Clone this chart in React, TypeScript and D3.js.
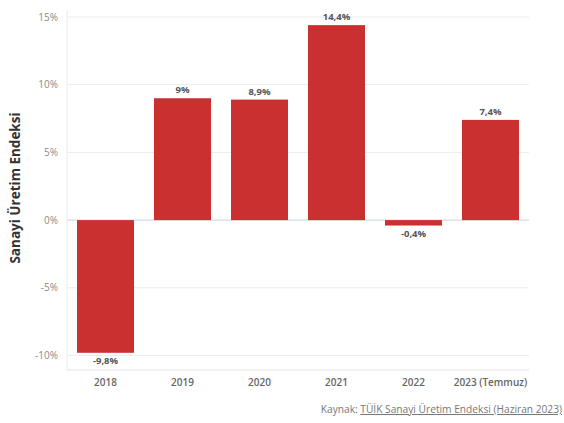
import React from "react";
import * as d3 from "d3";

const categories = ["2018", "2019", "2020", "2021", "2022", "2023 (Temmuz)"];
const values = [-9.8, 9.0, 8.9, 14.4, -0.4, 7.4];
const valueLabels = ["-9,8%", "9%", "8,9%", "14,4%", "-0,4%", "7,4%"];
const yTicks = [-10, -5, 0, 5, 10, 15];
const yTickLabels = ["-10%", "-5%", "0%", "5%", "10%", "15%"];

const W = 564;
const H = 423;
const left = 67;
const right = 529;
const FONT = "'Open Sans', 'Noto Sans', sans-serif";

export default function App() {
  const x = d3.scaleBand<string>().domain(categories).range([left, right]).paddingInner(0.26).paddingOuter(0.13);
  const y = d3.scaleLinear().domain([-10, 15]).range([355.5, 17]);
  return (
    <svg width={W} height={H} style={{ position: "absolute", left: 0, top: 0, background: "#fff" }} fontFamily={FONT}>
      {yTicks.map((t, i) => (
        <g key={t}>
          <line x1={left} x2={right} y1={y(t)} y2={y(t)} stroke={t === 0 ? "#c9d3d9" : "#ececec"} strokeWidth={1} />
          <text x={58} y={y(t)} dy="0.35em" textAnchor="end" fontSize={10} fill="#8a8a8a">{yTickLabels[i]}</text>
        </g>
      ))}
      <line x1={left} x2={left} y1={10} y2={370} stroke="#ececec" />
      <line x1={left} x2={right} y1={370} y2={370} stroke="#e4e4e4" />
      {categories.map((c, i) => {
        const v = values[i];
        const y0 = y(0);
        const yv = y(v);
        const top = Math.min(y0, yv);
        const h = Math.abs(yv - y0);
        const bx = x(c)!;
        const bw = x.bandwidth();
        return (
          <g key={c}>
            <rect x={bx} y={top} width={bw} height={h} fill="#c9302f" />
            <text
              x={bx + bw / 2}
              y={v >= 0 ? yv - 5 : yv + 11}
              textAnchor="middle"
              fontSize={9.5}
              fontWeight="bold"
              fill="#555"
            >
              {valueLabels[i]}
            </text>
            <text x={bx + bw / 2} y={386} textAnchor="middle" fontSize={10} fontWeight={600} fill="#666">
              {c}
            </text>
          </g>
        );
      })}
      <text
        transform={`translate(20,188) rotate(-90)`}
        textAnchor="middle"
        fontSize={13.5}
        fontWeight="bold"
        fill="#333"
      >
        Sanayi Üretim Endeksi
      </text>
      <text x={562} y={413} fontSize={10.2} fill="#777" textAnchor="end">
        Kaynak: <tspan textDecoration="underline">TÜİK Sanayi Üretim Endeksi (Haziran 2023)</tspan>
      </text>
    </svg>
  );
}
